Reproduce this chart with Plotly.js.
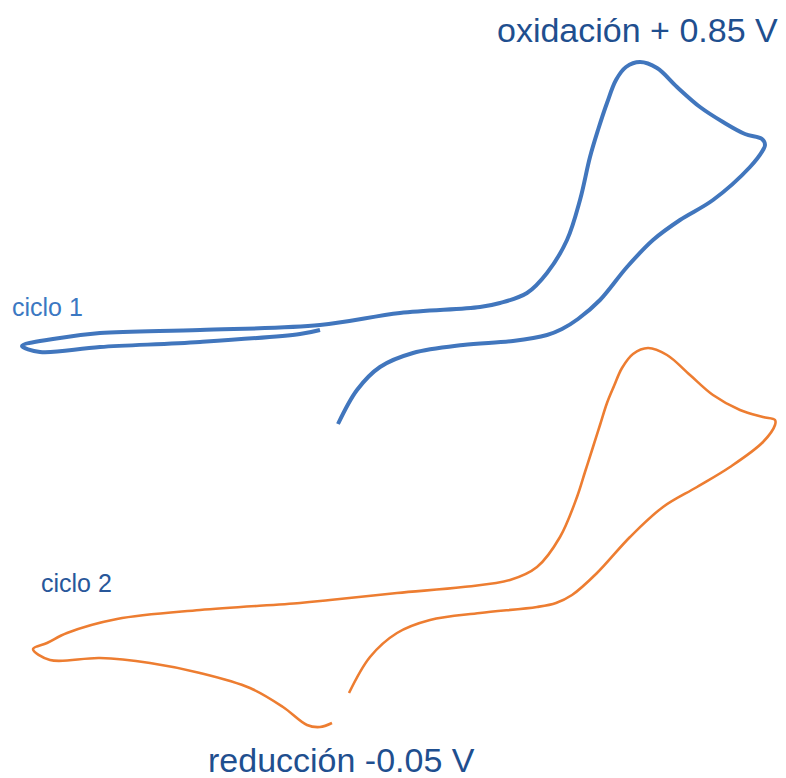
<!DOCTYPE html>
<html>
<head>
<meta charset="utf-8">
<script src="https://cdn.plot.ly/plotly-3.0.1.min.js"></script>
<style>
  html, body { margin: 0; padding: 0; background: #fff; }
  #chart { width: 786px; height: 778px; }
</style>
</head>
<body>
<div id="chart"></div>
<script>
// Voltammogram traces, drawing units (x to the right, y downward)
const ciclo1X = [338, 357, 380, 413, 463, 513, 547, 562, 578, 600, 627, 653, 680, 713, 750, 763, 765, 762, 745, 723, 700, 677, 657, 640, 626, 616, 607, 598, 590, 580, 567, 547, 527, 500, 480, 400, 320, 200, 100, 53, 22, 40, 100, 200, 300, 320];
const ciclo1Y = [424, 390, 367, 353, 345, 341, 335, 329, 319, 300, 267, 240, 220, 200, 167, 150, 145, 139, 134, 122, 107, 87, 68, 62, 67, 80, 103, 130, 157, 200, 240, 273, 293, 303, 307, 313, 325, 330, 333, 339, 346, 352, 347, 342, 334, 330];

const ciclo2X = [349, 370, 397, 430, 480, 537, 556, 572, 597, 630, 663, 697, 730, 763, 775, 775, 763, 740, 713, 690, 667, 648, 633, 622, 614, 607, 600, 593, 585, 577, 560, 537, 510, 463, 397, 330, 300, 200, 117, 67, 47, 33, 50, 100, 150, 200, 250, 283, 307, 320, 332];
const ciclo2Y = [693, 657, 633, 620, 613, 607, 603, 595, 573, 537, 507, 487, 467, 442, 425, 420, 417, 410, 395, 375, 355, 348, 354, 368, 386, 403, 425, 447, 472, 497, 537, 567, 580, 587, 593, 600, 603, 610, 619, 633, 643, 649, 660, 658, 663, 673, 688, 707, 725, 727, 723];

const labels = [
  { text: 'oxidación + 0.85 V', x: 637, y: 30, size: 34, color: '#1f4f8f' },
  { text: 'ciclo 1', x: 47, y: 307, size: 25, color: '#3b78c2' },
  { text: 'ciclo 2', x: 76, y: 583, size: 25, color: '#28579a' },
  { text: 'reducción -0.05 V', x: 341, y: 760, size: 34, color: '#1f4f8f' }
];

const traces = [
  { x: ciclo1X, y: ciclo1Y, mode: 'lines', line: { color: '#4176bd', width: 4, shape: 'spline', smoothing: 1 }, hoverinfo: 'skip' },
  { x: ciclo2X, y: ciclo2Y, mode: 'lines', line: { color: '#ed7d31', width: 2.6, shape: 'spline', smoothing: 1 }, hoverinfo: 'skip' }
];

const layout = {
  width: 786,
  height: 778,
  margin: { l: 0, r: 0, t: 0, b: 0 },
  paper_bgcolor: '#ffffff',
  plot_bgcolor: '#ffffff',
  showlegend: false,
  xaxis: { range: [0, 786], visible: false, fixedrange: true },
  yaxis: { range: [778, 0], visible: false, fixedrange: true },
  font: { family: 'Liberation Sans, Arial, sans-serif' },
  annotations: labels.map(l => ({
    text: l.text, x: l.x, y: l.y, xref: 'x', yref: 'y',
    showarrow: false, xanchor: 'center', yanchor: 'middle',
    font: { size: l.size, color: l.color, family: 'Liberation Sans, Arial, sans-serif' }
  }))
};

Plotly.newPlot('chart', traces, layout, { staticPlot: true, displayModeBar: false });
</script>
</body>
</html>
